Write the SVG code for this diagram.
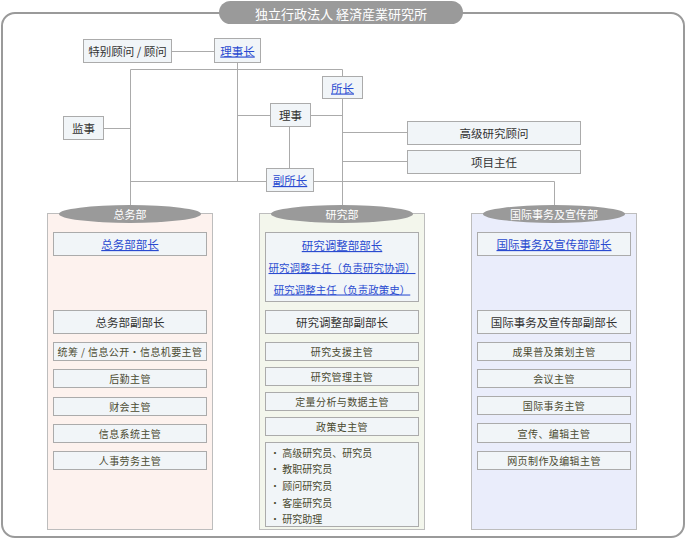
<svg xmlns="http://www.w3.org/2000/svg" width="686" height="540" viewBox="0 0 686 540">
<style>
text{font-family:"Noto Sans CJK SC","Noto Sans CJK JP",sans-serif;text-anchor:middle;dominant-baseline:central}
.box{fill:#f1f5f8;stroke:#ababab;stroke-width:1}
.col{stroke:#bdbdbd;stroke-width:1}
.hd{fill:#9a9a9a}
.ln{fill:none;stroke:#ababab;stroke-width:1}
.t{font-size:11.5px;fill:#333}
.s{font-size:10px;fill:#4a4a30;letter-spacing:0.4px}
.b{font-size:11.5px;fill:#2a4bd0;text-decoration:underline}
.bs{font-size:10.5px;fill:#2a4bd0;text-decoration:underline}
.w{font-size:11px;fill:#fff}
.l{font-size:10px;fill:#4a4a30;text-anchor:start}
</style>
<rect x="2" y="13" width="682" height="524" rx="13" fill="#fff" stroke="#9a9a9a" stroke-width="2"/>
<g id="title">
<rect x="219" y="1" width="244" height="23" rx="11.5" fill="#9a9a9a"/>
<text x="341" y="13" style="font-family:'Noto Sans CJK JP',sans-serif;font-size:13px;fill:#fff">独立行政法人 経済産業研究所</text>
</g>
<g id="connectors">
<path class="ln" d="M172 51.5H214.5"/>
<path class="ln" d="M237.5 62.5V181.5"/>
<path class="ln" d="M130.5 69.5H342.5V76.5"/>
<path class="ln" d="M342.5 98.5V205"/>
<path class="ln" d="M237.5 115.5H270.5M310.5 115.5H342.5"/>
<path class="ln" d="M289.5 126.5V168.5"/>
<path class="ln" d="M103.5 128.5H130.5"/>
<path class="ln" d="M130.5 69.5V205"/>
<path class="ln" d="M342.5 132.5H407.5M342.5 161.5H407.5"/>
<path class="ln" d="M130.5 181.5H266.5M313.5 181.5H554.5V205"/>
</g>
<g id="tokubetsu"><rect class="box" x="83.5" y="39.5" width="88" height="23"/><text class="t" x="127.5" y="51">特别顾问 / 顾问</text></g>
<g id="rijicho"><rect class="box" x="214.5" y="38.5" width="46" height="24"/><text class="b" x="237.5" y="50.5">理事长</text></g>
<g id="shocho"><rect class="box" x="322.5" y="76.5" width="40" height="22"/><text class="b" x="342.5" y="87.5">所长</text></g>
<g id="riji"><rect class="box" x="270.5" y="103.5" width="40" height="23"/><text class="t" x="290.5" y="115">理事</text></g>
<g id="kanji"><rect class="box" x="63.5" y="116.5" width="40" height="23"/><text class="t" x="83.5" y="128">监事</text></g>
<g id="komon"><rect class="box" x="407.5" y="121.5" width="173" height="23"/><text class="t" x="494" y="133">高级研究顾问</text></g>
<g id="project"><rect class="box" x="407.5" y="150.5" width="173" height="23"/><text class="t" x="494" y="162">项目主任</text></g>
<g id="fukushocho"><rect class="box" x="266.5" y="168.5" width="47" height="23"/><text class="b" x="290" y="180">副所长</text></g>

<g id="dept-soumu">
<rect class="col" x="47.5" y="213.5" width="165" height="316" fill="#fdf2ee"/>
<ellipse class="hd" cx="130" cy="214" rx="71" ry="9"/>
<text class="w" x="130" y="214">总务部</text>
<rect class="box" x="53.5" y="232.5" width="153" height="23"/><text class="b" x="130" y="244">总务部部长</text>
<rect class="box" x="53.5" y="310.5" width="153" height="23"/><text class="t" x="130" y="322">总务部副部长</text>
<rect class="box" x="53.5" y="342.5" width="153" height="18"/><text class="s" x="130" y="351.5">统筹 / 信息公开・信息机要主管</text>
<rect class="box" x="53.5" y="369.5" width="153" height="18"/><text class="s" x="130" y="378.5">后勤主管</text>
<rect class="box" x="53.5" y="397.5" width="153" height="18"/><text class="s" x="130" y="406.5">财会主管</text>
<rect class="box" x="53.5" y="424.5" width="153" height="18"/><text class="s" x="130" y="433.5">信息系统主管</text>
<rect class="box" x="53.5" y="451.5" width="153" height="18"/><text class="s" x="130" y="460.5">人事劳务主管</text>
</g>

<g id="dept-kenkyu">
<rect class="col" x="259.5" y="213.5" width="165" height="316" fill="#f3f6ec"/>
<ellipse class="hd" cx="342" cy="214" rx="71" ry="9"/>
<text class="w" x="342" y="214">研究部</text>
<rect class="box" x="265.5" y="232.5" width="153" height="69"/>
<text class="b" x="342" y="245">研究调整部部长</text>
<text class="bs" x="342" y="267.5">研究调整主任（负责研究协调）</text>
<text class="bs" x="342" y="289">研究调整主任（负责政策史）</text>
<rect class="box" x="265.5" y="310.5" width="153" height="23"/><text class="t" x="342" y="322">研究调整部副部长</text>
<rect class="box" x="265.5" y="342.5" width="153" height="18"/><text class="s" x="342" y="351.5">研究支援主管</text>
<rect class="box" x="265.5" y="367.5" width="153" height="18"/><text class="s" x="342" y="376.5">研究管理主管</text>
<rect class="box" x="265.5" y="392.5" width="153" height="18"/><text class="s" x="342" y="401.5">定量分析与数据主管</text>
<rect class="box" x="265.5" y="417.5" width="153" height="18"/><text class="s" x="342" y="426.5">政策史主管</text>
<rect class="box" x="265.5" y="442.5" width="153" height="84"/>
<text class="l" x="270" y="452.5">• 高级研究员、研究员</text>
<text class="l" x="270" y="468.5">• 教职研究员</text>
<text class="l" x="270" y="485.5">• 顾问研究员</text>
<text class="l" x="270" y="502">• 客座研究员</text>
<text class="l" x="270" y="518">• 研究助理</text>
</g>

<g id="dept-kokusai">
<rect class="col" x="471.5" y="213.5" width="165" height="316" fill="#eaedfb"/>
<ellipse class="hd" cx="554" cy="214" rx="71" ry="9"/>
<text class="w" x="554" y="214">国际事务及宣传部</text>
<rect class="box" x="477.5" y="232.5" width="153" height="23"/><text class="b" x="554" y="244">国际事务及宣传部部长</text>
<rect class="box" x="477.5" y="310.5" width="153" height="23"/><text class="t" x="554" y="322">国际事务及宣传部副部长</text>
<rect class="box" x="477.5" y="342.5" width="153" height="18"/><text class="s" x="554" y="351.5">成果普及策划主管</text>
<rect class="box" x="477.5" y="369.5" width="153" height="18"/><text class="s" x="554" y="378.5">会议主管</text>
<rect class="box" x="477.5" y="396.5" width="153" height="18"/><text class="s" x="554" y="405.5">国际事务主管</text>
<rect class="box" x="477.5" y="423.5" width="153" height="19"/><text class="s" x="554" y="433">宣传、编辑主管</text>
<rect class="box" x="477.5" y="451.5" width="153" height="18"/><text class="s" x="554" y="460.5">网页制作及编辑主管</text>
</g>
</svg>
